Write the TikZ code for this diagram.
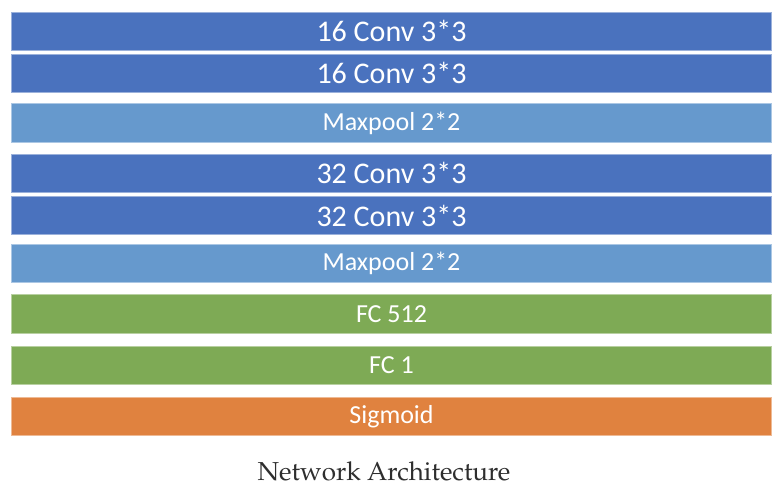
\documentclass[tikz,border=0pt]{standalone}
\usepackage[T1]{fontenc}
\usepackage{fontspec}
\newfontfamily\barfont{Carlito}

\definecolor{convblue}{HTML}{4A72BE}
\definecolor{poolblue}{HTML}{6699CD}
\definecolor{fcgreen}{HTML}{7EAA55}
\definecolor{sigorange}{HTML}{E0823F}

\tikzset{
  layer/.style={rectangle,minimum width=760bp,minimum height=38.4bp,
    inner sep=0pt,line width=.8bp,text=white},
  conv/.style={layer,fill=convblue,draw=convblue!55!white,
    font=\barfont\fontsize{30bp}{32bp}\selectfont},
  pool/.style={layer,fill=poolblue,draw=poolblue!55!white,
    font=\barfont\fontsize{26bp}{28bp}\selectfont},
  fc/.style={layer,fill=fcgreen,draw=fcgreen!55!white,
    font=\barfont\fontsize{26bp}{28bp}\selectfont},
  sigbox/.style={layer,fill=sigorange,draw=sigorange!55!white,
    font=\barfont\fontsize{26bp}{28bp}\selectfont}
}

\begin{document}
\begin{tikzpicture}[x=1bp,y=-1bp]
      \useasboundingbox (0,0) rectangle (784,496);

      \node[conv]   (1) at (391.5,31.3)  {16 Conv 3*3};
      \node[conv]   (2) at (391.5,73.3)  {16 Conv 3*3};
      \node[pool]   (3) at (391.5,123)   {Maxpool 2*2};
      \node[conv]   (4) at (391.5,173.3) {32 Conv 3*3};
      \node[conv]   (5) at (391.5,215.7) {32 Conv 3*3};
      \node[pool]   (6) at (391.5,263.4) {Maxpool 2*2};
      \node[fc]     (7) at (391.5,313.7) {FC 512};
      \node[fc]     (8) at (391.5,365.5) {FC 1};
      \node[sigbox] (9) at (391.5,416.4) {Sigmoid};

      \node[text=black!82,font=\usefont{T1}{ppl}{m}{n}\fontsize{26bp}{28bp}\selectfont]
        (cap) at (384,471.5) {Network Architecture};

    \end{tikzpicture}
\end{document}
